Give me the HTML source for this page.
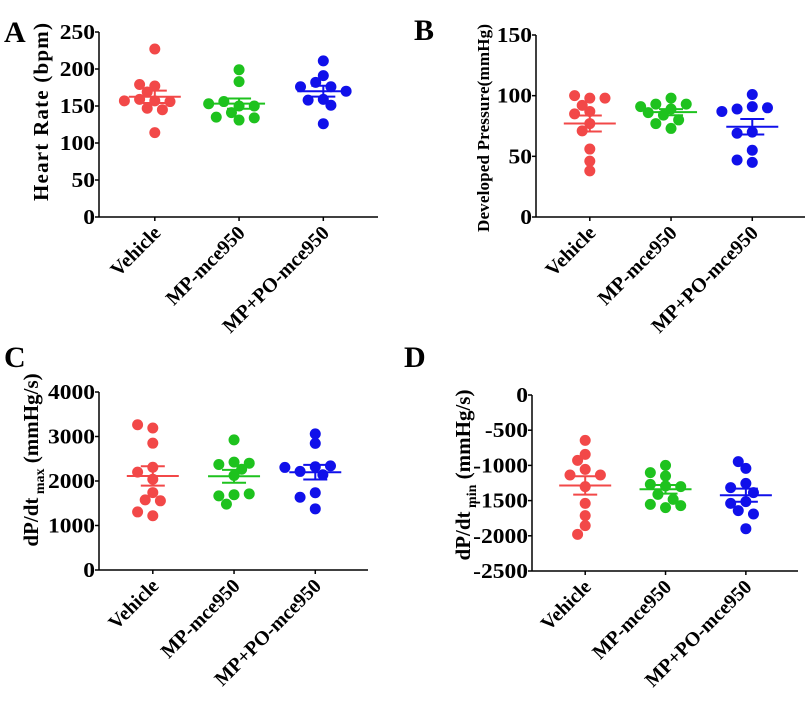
<!DOCTYPE html>
<html><head><meta charset="utf-8"><style>
body{margin:0;background:#fff;}
svg{display:block;font-family:"Liberation Serif",serif;font-weight:bold;}
</style></head><body>
<svg id="fig" width="810" height="702" viewBox="0 0 810 702">
<text x="4" y="42" font-size="30">A</text>
<text x="414" y="40" font-size="30">B</text>
<text x="4" y="367" font-size="30">C</text>
<text x="404" y="367" font-size="30">D</text>
<text transform="translate(48,112) rotate(-90)" text-anchor="middle" font-size="21" textLength="178">Heart  Rate (bpm)</text>
<text transform="translate(489,128) rotate(-90)" text-anchor="middle" font-size="17" textLength="208">Developed Pressure(mmHg)</text>
<text transform="translate(38,460) rotate(-90)" text-anchor="middle" font-size="21">dP/dt<tspan font-size="14" dy="6"> max</tspan><tspan dy="-6"> (mmHg/s)</tspan></text>
<text transform="translate(470,475) rotate(-90)" text-anchor="middle" font-size="21">dP/dt<tspan font-size="14" dy="6"> min</tspan><tspan dy="-6"> (mmHg/s)</tspan></text>
</svg>
<script>
const categories = ["Vehicle","MP-mce950","MP+PO-mce950"];
const hrVehicle = [227,177,179,169,157,159,156,157,147,145,114];
const hrMP = [199,183,150,156,150,153,141,131,134,135];
const hrMPPO = [211,191,182,176,176,170,159,158,151,126];
const dpVehicle = [98,100,98,87,92,85,77,71,56,46,38];
const dpMP = [89,93,98,93,86,91,84,80,77,73];
const dpMPPO = [101,91,89,90,87,70,69,55,45,47];
const maxVehicle = [3190,3265,2850,2310,2200,2040,1740,1575,1555,1220,1305];
const maxMP = [2925,2425,2370,2265,2400,2125,1690,1665,1710,1480];
const maxMPPO = [3060,2845,2320,2215,2340,2305,2140,1735,1635,1375];
const minVehicle = [-644,-843,-928,-1056,-1136,-1136,-1302,-1539,-1714,-1856,-1979];
const minMP = [-999,-1151,-1103,-1293,-1269,-1302,-1411,-1482,-1600,-1553,-1572];
const minMPPO = [-1042,-947,-1255,-1316,-1387,-1515,-1539,-1643,-1690,-1899];
const ticksA = [0,50,100,150,200,250];
const ticksB = [0,50,100,150];
const ticksC = [0,1000,2000,3000,4000];
const ticksD = [0,-500,-1000,-1500,-2000,-2500];

const NS="http://www.w3.org/2000/svg";
const svg=document.getElementById('fig');
const colors=["#f24848","#1ec21e","#1010ea"];
function mk(tag,attrs,parent){const e=document.createElementNS(NS,tag);for(const k in attrs)e.setAttribute(k,attrs[k]);(parent||svg).appendChild(e);return e;}

function panel(id,ox,top,bottom,right,ymin,ymax,ticks,groups){
  const g=mk('g',{});
  
  
  const y=v=>bottom-(v-ymin)/(ymax-ymin)*(bottom-top);
  const w=right-ox;
  const x=i=>ox+w*(0.2+0.302*i);
  const ya=mk('line',{x1:ox,y1:top,x2:ox,y2:bottom,stroke:'#000','stroke-width':1.5},g);
  
  
  const xa=mk('line',{x1:ox,y1:bottom,x2:right,y2:bottom,stroke:'#000','stroke-width':1.5},g);
  
  
  ticks.forEach(t=>{
    mk('line',{x1:ox-4,y1:y(t),x2:ox,y2:y(t),stroke:'#000','stroke-width':1.5},g);
    const tl=mk('text',{transform:`translate(${ox-4},${y(t)+7}) scale(1.12,1)`,'text-anchor':'end','font-size':21},g);
    tl.textContent=t;
    
    
  });
  categories.forEach((c,i)=>{
    mk('line',{x1:x(i),y1:bottom,x2:x(i),y2:bottom+4,stroke:'#000','stroke-width':1.5},g);
    const tx=x(i)+7, ty=bottom+17;
    const cl=mk('text',{transform:`translate(${tx},${ty}) rotate(-45)`,'text-anchor':'end','font-size':20},g);
    cl.textContent=c;
    
    
  });
  const r=5.5;
  const cand=[0];
  for(let k=1;k<12;k++){cand.push(-k*7.6,k*7.6);}
  groups.forEach((vals,i)=>{
    const col=colors[i];
    const placed=[];
    vals.forEach(v=>{
      const py=y(v);
      let px=x(i);
      for(const off of cand){
        const cx=x(i)+off;
        if(placed.every(p=>Math.hypot(p[0]-cx,p[1]-py)>=2*r-1.5)){px=cx;break;}
      }
      placed.push([px,py]);
      const c=mk('circle',{cx:px,cy:py,r:r,fill:col},g);
      
      
    });
    const n=vals.length,m=vals.reduce((a,b)=>a+b,0)/n;
    const sd=Math.sqrt(vals.reduce((a,b)=>a+(b-m)*(b-m),0)/(n-1));
    const se=sd/Math.sqrt(n);
    const ml=mk('line',{x1:x(i)-26,y1:y(m),x2:x(i)+26,y2:y(m),stroke:col,'stroke-width':2},g);
    
    
    const eb=mk('path',{d:`M${x(i)},${y(m+se)}V${y(m-se)}M${x(i)-12},${y(m+se)}h24M${x(i)-12},${y(m-se)}h24`,stroke:col,'stroke-width':2,fill:'none'},g);
    
    
  });
}
panel('a',99,32,217,378,0,250,ticksA,[hrVehicle,hrMP,hrMPPO]);
panel('b',536,35,217,805,0,150,ticksB,[dpVehicle,dpMP,dpMPPO]);
panel('c',99,392,570,368,0,4000,ticksC,[maxVehicle,maxMP,maxMPPO]);
panel('d',532,395,571,798,-2500,0,ticksD,[minVehicle,minMP,minMPPO]);
</script>
</body></html>
